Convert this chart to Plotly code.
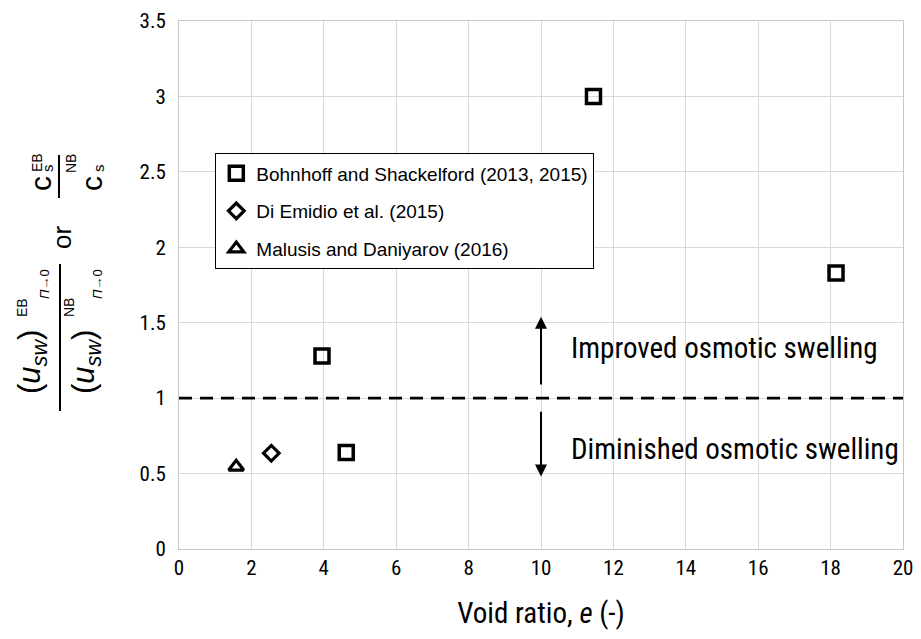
import plotly.graph_objects as go

# ---- data ----
bs_x = [11.45, 18.15, 3.95, 4.62]
bs_y = [3.0, 1.83, 1.28, 0.64]
de_x = [2.55]
de_y = [0.635]
md_x = [1.58]
md_y = [0.545]
series_names = ["Bohnhoff and Shackelford (2013, 2015)",
                "Di Emidio et al. (2015)",
                "Malusis and Daniyarov (2016)"]
x_ticks = [0, 2, 4, 6, 8, 10, 12, 14, 16, 18, 20]
y_ticks = [0, 0.5, 1, 1.5, 2, 2.5, 3, 3.5]

NARROW = "Liberation Sans Narrow, Arial Narrow, Roboto Condensed, Liberation Sans, sans-serif"
REG = "Liberation Sans, Arial, sans-serif"

# page has an 8px body margin: figure is drawn from (8, 8); keep it inside the window
OFF = 8
W, H = 921 - 2 * OFF, 639 - 2 * OFF
L, T = 179 - OFF, 21 - OFF
R = (W + OFF) - 903
B = (H + OFF) - 549
pw, ph = W - L - R, H - T - B

def px(x):
    return (x - OFF - L) / pw

def py(y):
    return (H - B - (y - OFF)) / ph

fig = go.Figure()
fig.add_trace(go.Scatter(x=bs_x, y=bs_y, mode="markers", name=series_names[0],
                         legendgroup="a",
                         marker=dict(symbol="square-open", size=14, color="black",
                                     line=dict(width=3.5, color="black"))))
fig.add_trace(go.Scatter(x=de_x, y=de_y, mode="markers", name=series_names[1],
                         legendgroup="b",
                         marker=dict(symbol="diamond-open", size=12, color="black",
                                     line=dict(width=3.2, color="black"))))
fig.add_trace(go.Scatter(x=md_x, y=md_y, mode="markers", name=series_names[2],
                         legendgroup="c",
                         marker=dict(symbol="triangle-up-open", size=13, color="black",
                                     line=dict(width=3.2, color="black"))))

# dashed reference line at ratio = 1
fig.add_shape(type="line", xref="paper", yref="y", x0=0, x1=1, y0=1, y1=1,
              line=dict(color="black", width=2.8, dash="13px,8px"))

anns = []
# arrows
anns.append(dict(x=10, y=1.54, ax=10, ay=1.08, xref="x", yref="y", axref="x", ayref="y",
                 showarrow=True, arrowhead=2, arrowsize=1.2, arrowwidth=2, arrowcolor="black", text=""))
anns.append(dict(x=10, y=0.48, ax=10, ay=0.92, xref="x", yref="y", axref="x", ayref="y",
                 showarrow=True, arrowhead=2, arrowsize=1.2, arrowwidth=2, arrowcolor="black", text=""))
anns.append(dict(x=10.78, y=1.33, xref="x", yref="y", text="Improved osmotic swelling",
                 showarrow=False, xanchor="left", yanchor="middle",
                 font=dict(family=NARROW, size=29, color="black")))
anns.append(dict(x=10.78, y=0.66, xref="x", yref="y", text="Diminished osmotic swelling",
                 showarrow=False, xanchor="left", yanchor="middle",
                 font=dict(family=NARROW, size=29, color="black")))

# y-axis label pieces (rotated)
def lab(cx, cy, text, size, family=REG):
    anns.append(dict(x=px(cx), y=py(cy), xref="paper", yref="paper", text=text,
                     showarrow=False, textangle=-90, xanchor="center", yanchor="middle",
                     font=dict(family=family, size=size, color="black")))

# (u_sw) fraction
lab(32, 362, "(<i>u</i><sub><i>sw</i></sub>)", 31)
lab(22, 308, "EB", 14)
lab(44, 284, "<i>Π</i>→0", 13)
lab(86, 362, "(<i>u</i><sub><i>sw</i></sub>)", 31)
lab(69, 308, "NB", 14)
lab(97, 284, "<i>Π</i>→0", 13)
# or
lab(62, 238, "or", 26)
# c_s fraction
lab(40, 184, "c", 30)
lab(37, 163, "EB", 14)
lab(47, 168, "s", 15)
lab(91, 184, "c", 30)
lab(71, 164, "NB", 14)
lab(98, 168, "s", 15)

shapes_lines = [
    (60, 264, 411),
    (59, 155, 198),
]
for x0, y0, y1 in shapes_lines:
    fig.add_shape(type="line", xref="paper", yref="paper",
                  x0=px(x0), x1=px(x0), y0=py(y0), y1=py(y1),
                  line=dict(color="black", width=2))

fig.update_layout(
    width=W, height=H,
    margin=dict(l=L, r=R, t=T, b=B, autoexpand=False),
    plot_bgcolor="white", paper_bgcolor="white",
    annotations=anns,
    showlegend=True,
    legend=dict(x=px(215), y=py(153), xanchor="left", yanchor="top",
                bgcolor="white", bordercolor="black", borderwidth=1.3,
                font=dict(family=REG, size=19, color="black"),
                tracegroupgap=10, traceorder="grouped"),
    xaxis=dict(range=[0, 20], tickvals=x_ticks, ticktext=[str(v) for v in x_ticks],
               showgrid=True, gridcolor="#d9d9d9", gridwidth=1, automargin=False,
               showline=True, linecolor="#c8c8c8", linewidth=1, mirror=True, zeroline=False,
               ticks="", ticklabeloverflow="allow",
               tickfont=dict(family=NARROW, size=21, color="black"),
               title=dict(text="Void ratio, <i>e</i> (-)",
                          font=dict(family=NARROW, size=29, color="black"), standoff=23)),
    yaxis=dict(range=[0, 3.5], tickvals=y_ticks, ticktext=[("%g" % v) for v in y_ticks],
               showgrid=True, gridcolor="#d9d9d9", gridwidth=1, automargin=False,
               showline=True, linecolor="#c8c8c8", linewidth=1, mirror=True, zeroline=False,
               ticks="", ticklabeloverflow="allow",
               tickfont=dict(family=NARROW, size=21, color="black"),
               ticklabelstandoff=8),
)

fig.write_html("out.html")
